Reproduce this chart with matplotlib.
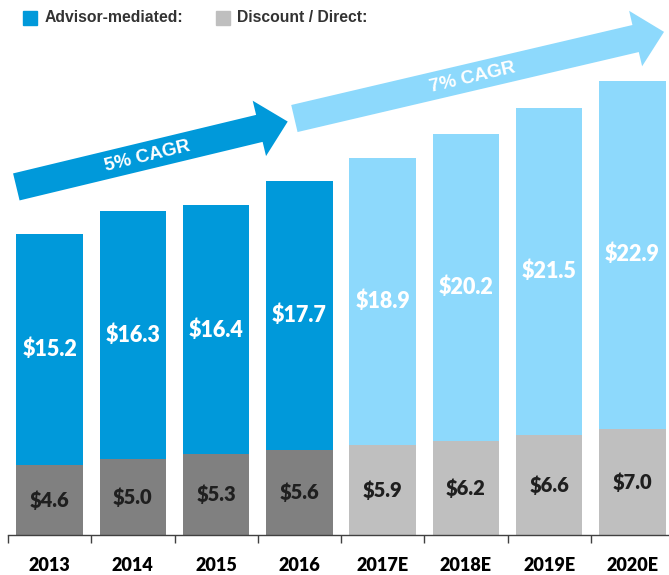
import numpy as np
import matplotlib
matplotlib.use("Agg")
import matplotlib.pyplot as plt
from matplotlib.patches import FancyArrowPatch, Rectangle

years = ["2013", "2014", "2015", "2016", "2017E", "2018E", "2019E", "2020E"]
advisor = [15.2, 16.3, 16.4, 17.7, 18.9, 20.2, 21.5, 22.9]
direct = [4.6, 5.0, 5.3, 5.6, 5.9, 6.2, 6.6, 7.0]
is_estimate = [False, False, False, False, True, True, True, True]

BLUE = "#0099DA"
LIGHT_BLUE = "#8DD9FC"
DARK_GRAY = "#808080"
LIGHT_GRAY = "#BFBFBF"

NARROW = ["Lato", "DejaVu Sans"]
ARIAL = ["Liberation Sans", "DejaVu Sans"]
HEAVY = 800

fig = plt.figure(figsize=(6.69, 5.75), dpi=100)
ax = fig.add_axes([8 / 669, 40 / 575, 666 / 669, 532 / 575])

x = np.arange(len(years))
top_colors = [LIGHT_BLUE if e else BLUE for e in is_estimate]
bottom_colors = [LIGHT_GRAY if e else DARK_GRAY for e in is_estimate]

ax.bar(x, direct, width=0.8, color=bottom_colors, linewidth=0)
ax.bar(x, advisor, width=0.8, bottom=direct, color=top_colors, linewidth=0)

for xi, d, a in zip(x, direct, advisor):
    ax.text(xi, d / 2, f"${d:.1f}", ha="center", va="center",
            fontsize=14.5, fontweight=HEAVY, color="#1f1f1f", family=NARROW)
    ax.text(xi, d + a / 2, f"${a:.1f}", ha="center", va="center",
            fontsize=15.5, fontweight=HEAVY, color="white", family=NARROW)

ax.set_xlim(-0.5, len(years) - 0.5)
ax.set_ylim(0, 35)

# CAGR arrows (data coords, sizes in points)
arrows = [
    ((-0.40, 22.9), (2.86, 27.2), "5% CAGR", (1.18, 24.9), BLUE),
    ((2.94, 27.4), (7.38, 33.1), "7% CAGR", (5.08, 30.1), LIGHT_BLUE),
]
for start, end, label, tpos, col in arrows:
    arr = FancyArrowPatch(start, end, arrowstyle="simple,head_length=21,head_width=41,tail_width=20",
                          mutation_scale=1, shrinkA=0, shrinkB=0, color=col, linewidth=0, zorder=3)
    ax.add_patch(arr)
    p0 = ax.transData.transform(start)
    p1 = ax.transData.transform(end)
    angle = np.degrees(np.arctan2(p1[1] - p0[1], p1[0] - p0[0]))
    ax.text(tpos[0], tpos[1], label, ha="center", va="center", rotation=angle,
            rotation_mode="anchor", fontsize=13.5, fontweight="bold", color="white",
            family=ARIAL, zorder=4)

for side in ["left", "top", "right"]:
    ax.spines[side].set_visible(False)
ax.spines["bottom"].set_color("#404040")
ax.spines["bottom"].set_linewidth(1.0)
ax.set_yticks([])
ax.set_xticks(x)
ax.set_xticklabels(years, fontsize=13, fontweight=HEAVY, family=NARROW)
ax.tick_params(axis="x", which="major", length=0, pad=16)
ax.set_xticks(np.arange(-0.5, len(years)), minor=True)
ax.tick_params(axis="x", which="minor", length=6, width=1.0, color="#404040", direction="out")

# legend
fig.patches.append(Rectangle((23 / 669, 1 - 25 / 575), 14 / 669, 14 / 575,
                             transform=fig.transFigure, color=BLUE, figure=fig))
fig.text(45 / 669, 1 - 18 / 575, "Advisor-mediated:", ha="left", va="center",
         fontsize=11.3, fontweight="bold", color="#333333", family=ARIAL)
fig.patches.append(Rectangle((216 / 669, 1 - 25 / 575), 14 / 669, 14 / 575,
                             transform=fig.transFigure, color=LIGHT_GRAY, figure=fig))
fig.text(237 / 669, 1 - 18 / 575, "Discount / Direct:", ha="left", va="center",
         fontsize=11.3, fontweight="bold", color="#333333", family=ARIAL)

fig.savefig("out.png", dpi=100)
